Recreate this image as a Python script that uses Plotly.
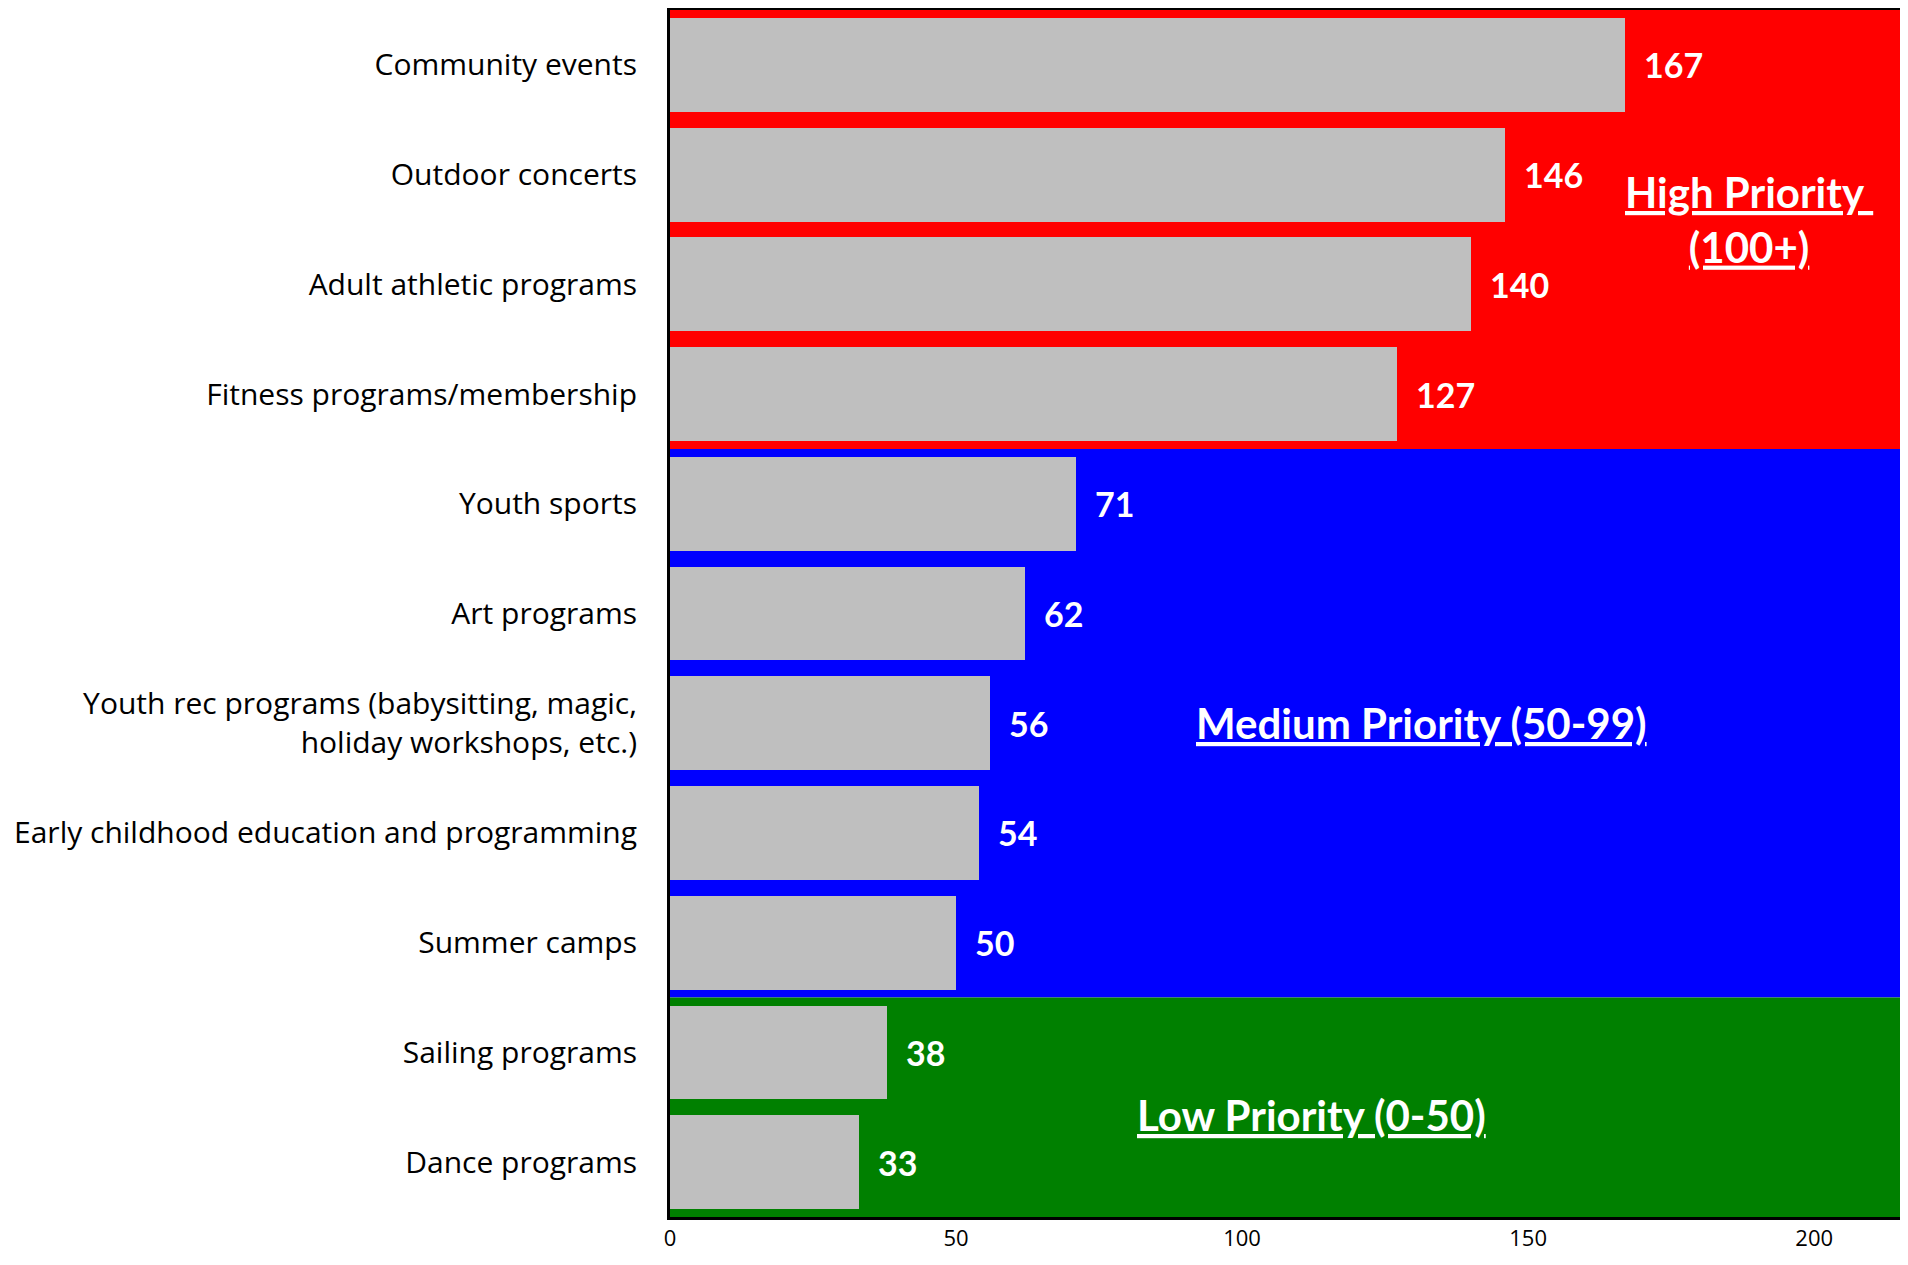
import plotly.graph_objects as go

categories = [
    "Community events",
    "Outdoor concerts",
    "Adult athletic programs",
    "Fitness programs/membership",
    "Youth sports",
    "Art programs",
    "Youth rec programs (babysitting, magic,<br>holiday workshops, etc.)",
    "Early childhood education and programming",
    "Summer camps",
    "Sailing programs",
    "Dance programs",
]
votes = [167, 146, 140, 127, 71, 62, 56, 54, 50, 38, 33]
priority = ["High", "High", "High", "High", "Medium", "Medium", "Medium",
            "Medium", "Medium", "Low", "Low"]

band_colors = {"High": "#FF0000", "Medium": "#0000FF", "Low": "#008000"}
band_labels = {
    "High": "<b><u>High Priority </u></b><br><b><u>(100+)</u></b>",
    "Medium": "<b><u>Medium Priority (50-99)</u></b>",
    "Low": "<b><u>Low Priority (0-50)</u></b>",
}
# where the band labels sit (x in data units, y in category position)
band_label_pos = {"High": (188.6, 1.41), "Medium": (131.3, 6.0), "Low": (112.2, 9.57)}

ypos = list(range(len(categories)))
LABEL_FONT = "Open Sans"
BOLD_FONT = "Lato"

fig = go.Figure()
fig.add_trace(go.Bar(
    x=votes, y=ypos, orientation="h",
    marker=dict(color="#BFBFBF", line=dict(width=0)),
    width=0.855, showlegend=False, hoverinfo="x+y",
))

# coloured priority bands behind the bars
for grp in ["High", "Medium", "Low"]:
    idx = [i for i, p in enumerate(priority) if p == grp]
    fig.add_shape(type="rect", xref="paper", yref="y",
                  x0=0, x1=1, y0=min(idx) - 0.5, y1=max(idx) + 0.5,
                  fillcolor=band_colors[grp], line=dict(width=0), layer="below")
    lx, ly = band_label_pos[grp]
    fig.add_annotation(x=lx, y=ly, text=band_labels[grp], showarrow=False,
                       font=dict(family=BOLD_FONT, size=42, color="white"),
                       align="center", xanchor="center", yanchor="middle")

# value labels
for v, y in zip(votes, ypos):
    fig.add_annotation(x=v, y=y, text=f"<b>{v}</b>", showarrow=False,
                       xanchor="left", xshift=17,
                       font=dict(family=BOLD_FONT, size=34, color="white"))

# page body has an 8px margin, so the figure is sized to fit inside it
fig.update_layout(
    width=1900, height=1249,
    margin=dict(l=662, r=8, t=2, b=40),
    paper_bgcolor="white", plot_bgcolor="white",
    font=dict(family=LABEL_FONT, color="black"),
    bargap=0,
)
fig.update_xaxes(range=[0, 215], tickvals=[0, 50, 100, 150, 200],
                 showgrid=False, zeroline=False, ticks="",
                 tickfont=dict(size=22), ticklabelstandoff=0,
                 automargin=False,
                 showline=True, linecolor="black",
                 linewidth=3, mirror=True)
fig.update_yaxes(range=[10.5, -0.5], tickvals=ypos, ticktext=categories,
                 showgrid=False, zeroline=False, ticks="",
                 tickfont=dict(size=30), ticklabelstandoff=24,
                 automargin=False,
                 showline=True, linecolor="black", linewidth=3, mirror=True)

fig.write_html("out.html")
